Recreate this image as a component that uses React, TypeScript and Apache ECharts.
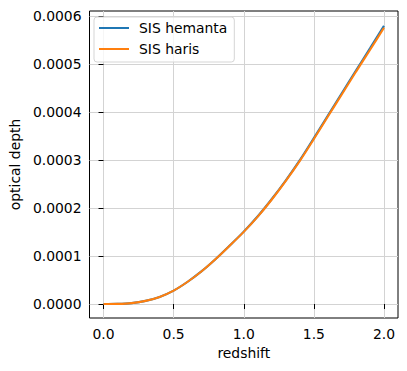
import React, { useEffect, useRef } from "react";
import * as echarts from "echarts";

const redshift = [0, 0.1, 0.2, 0.3, 0.4, 0.5, 0.6, 0.7, 0.8, 0.9, 1.0, 1.1, 1.2, 1.3, 1.4, 1.5, 1.6, 1.7, 1.8, 1.9, 2.0];
const hemanta = [0, 0.0000003, 0.000002, 0.0000066, 0.0000148, 0.000028, 0.0000465, 0.0000685, 0.000094, 0.000122, 0.000151, 0.000183, 0.000219, 0.000258, 0.0003, 0.000346, 0.000393, 0.00044, 0.000487, 0.000533, 0.00058];
const haris = [0, 0.0000003, 0.000002, 0.0000066, 0.0000148, 0.000028, 0.0000465, 0.0000684, 0.0000938, 0.0001217, 0.0001505, 0.0001823, 0.000218, 0.0002568, 0.0002985, 0.000344, 0.000391, 0.0004375, 0.0004842, 0.0005298, 0.000576];
const xTicks = [0, 0.5, 1.0, 1.5, 2.0];
const yTicks = [0, 0.0001, 0.0002, 0.0003, 0.0004, 0.0005, 0.0006];

const FONT = "DejaVu Sans";

export default function App() {
  const ref = useRef<HTMLDivElement>(null);
  useEffect(() => {
    if (!ref.current) return;
    const chart = echarts.init(ref.current, undefined, { renderer: "svg" });
    const gridLine = { lineStyle: { color: "#d3d3d3", width: 1 } };
    chart.setOption({
      animation: false,
      backgroundColor: "#ffffff",
      textStyle: { fontFamily: FONT },
      grid: {
        left: 88,
        right: 9,
        top: 11,
        bottom: 53,
        show: true,
        borderColor: "#000",
        borderWidth: 1,
        backgroundColor: "transparent",
      },
      legend: {
        orient: "vertical",
        left: 94,
        top: 17,
        padding: [3, 7, 5, 5],
        itemGap: 5,
        itemWidth: 30,
        itemHeight: 2,
        icon: "rect",
        backgroundColor: "rgba(255,255,255,0.8)",
        borderColor: "#d5d5d5",
        borderWidth: 1,
        borderRadius: 3,
        textStyle: { fontFamily: FONT, fontSize: 13.9, color: "#000", lineHeight: 16, padding: [0, 0, 0, 5] },
        data: ["SIS hemanta", "SIS haris"],
      },
      xAxis: {
        type: "value",
        min: -0.1,
        max: 2.1,
        name: "redshift",
        nameLocation: "middle",
        nameGap: 27,
        nameTextStyle: { fontFamily: FONT, fontSize: 13.9, color: "#000" },
        axisLine: { show: false },
        axisTick: { show: true, length: 5, lineStyle: { color: "#000", width: 1 }, customValues: xTicks },
        axisLabel: {
          customValues: xTicks,
          margin: 9,
          fontFamily: FONT,
          fontSize: 13.9,
          color: "#000",
          formatter: (v: number) => v.toFixed(1),
        },
        splitLine: { show: true, ...gridLine },
      },
      yAxis: {
        type: "value",
        min: -0.0000291,
        max: 0.000611,
        name: "optical depth",
        nameLocation: "middle",
        nameGap: 64,
        nameTextStyle: { fontFamily: FONT, fontSize: 13.9, color: "#000" },
        axisLine: { show: false },
        axisTick: { show: true, length: 5, lineStyle: { color: "#000", width: 1 }, customValues: yTicks },
        axisLabel: {
          customValues: yTicks,
          margin: 8,
          fontFamily: FONT,
          fontSize: 13.9,
          color: "#000",
          formatter: (v: number) => v.toFixed(4),
        },
        splitLine: { show: true, ...gridLine },
      },
      series: [
        {
          name: "SIS hemanta",
          type: "line",
          data: redshift.map((z, i) => [z, hemanta[i]]),
          showSymbol: false,
          smooth: 0.3,
          color: "#1f77b4",
          lineStyle: { width: 2.1, color: "#1f77b4" },
        },
        {
          name: "SIS haris",
          type: "line",
          data: redshift.map((z, i) => [z, haris[i]]),
          showSymbol: false,
          smooth: 0.3,
          color: "#ff7f0e",
          lineStyle: { width: 2.1, color: "#ff7f0e" },
        },
      ],
    });
    return () => chart.dispose();
  }, []);
  return <div ref={ref} style={{ position: "fixed", left: 0, top: 0, width: 407, height: 371 }} />;
}
